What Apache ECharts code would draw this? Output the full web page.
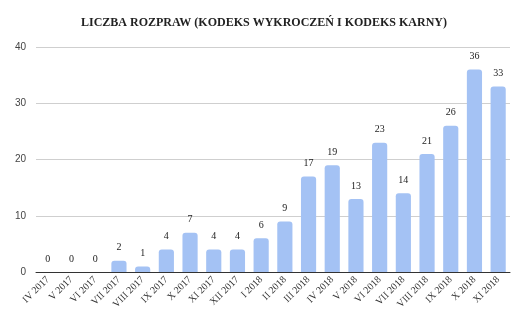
<!DOCTYPE html>
<html>
<head>
<meta charset="utf-8">
<script src="https://cdn.jsdelivr.net/npm/echarts@6/dist/echarts.min.js"></script>
<style>
    html, body { margin: 0; padding: 0; background: #fff; }
    #chart1 { width: 528px; height: 326px; }
</style>
</head>
<body>
<div id="chart1"></div>
<script>
    var months = ['IV 2017', 'V 2017', 'VI 2017', 'VII 2017', 'VIII 2017', 'IX 2017', 'X 2017', 'XI 2017', 'XII 2017',
        'I 2018', 'II 2018', 'III 2018', 'IV 2018', 'V 2018', 'VI 2018', 'VII 2018', 'VIII 2018', 'IX 2018', 'X 2018', 'XI 2018'];
    var rozprawy = [0, 0, 0, 2, 1, 4, 7, 4, 4, 6, 9, 17, 19, 13, 23, 14, 21, 26, 36, 33];
    var yTicks = [0, 10, 20, 30, 40];

    var chart1 = echarts.init(document.getElementById('chart1'));
    var option = {
        animation: false,
        title: {
            text: 'LICZBA ROZPRAW (KODEKS WYKROCZEŃ I KODEKS KARNY)',
            left: 'center',
            top: 12,
            textStyle: {
                fontFamily: 'Liberation Serif',
                fontWeight: 'bold',
                fontSize: 12,
                color: '#222'
            }
        },
        grid: {
            left: 36,
            right: 18,
            top: 47,
            bottom: 54
        },
        xAxis: {
            type: 'category',
            data: months,
            axisTick: {show: false},
            axisLine: {lineStyle: {color: '#333', width: 1}},
            axisLabel: {
                rotate: 45,
                interval: 0,
                margin: 6,
                fontFamily: 'Liberation Serif',
                fontSize: 10,
                color: '#333'
            }
        },
        yAxis: {
            type: 'value',
            min: yTicks[0],
            max: yTicks[yTicks.length - 1],
            interval: 10,
            axisLine: {show: false},
            axisTick: {show: false},
            splitLine: {lineStyle: {color: '#cfcfcf'}},
            axisLabel: {
                margin: 10,
                fontFamily: 'Liberation Sans',
                fontSize: 10,
                color: '#444'
            }
        },
        series: [{
            type: 'bar',
            data: rozprawy,
            barCategoryGap: '36%',
            itemStyle: {
                color: '#a4c2f4',
                borderRadius: [3, 3, 0, 0]
            },
            label: {
                show: true,
                position: 'top',
                distance: 8,
                fontFamily: 'Liberation Serif',
                fontSize: 10,
                color: '#222'
            }
        }]
    };
    chart1.setOption(option);
</script>
</body>
</html>
